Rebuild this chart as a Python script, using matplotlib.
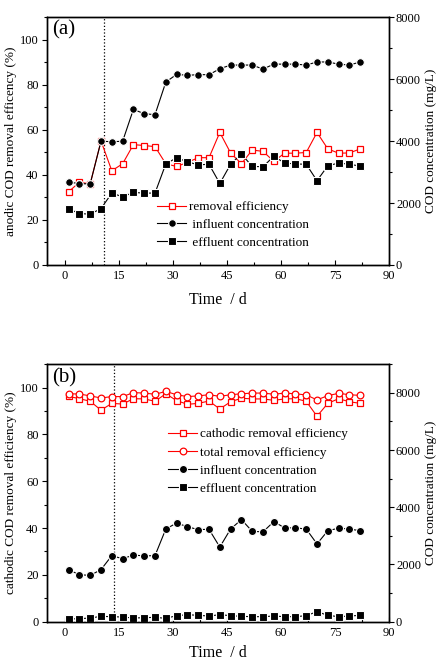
import numpy as np
import matplotlib
matplotlib.use('Agg')
import matplotlib.pyplot as plt
from matplotlib.ticker import MultipleLocator

plt.rcParams['font.family'] = ['Liberation Serif', 'DejaVu Serif']

# --- data ---
days = [1, 4, 7, 10, 13, 16, 19, 22, 25, 28, 31, 34, 37, 40,
        43, 46, 49, 52, 55, 58, 61, 64, 67, 70, 73, 76, 79, 82]

# (a) anode
a_removal = [32.5, 36.7, 36.0, 55.0, 41.8, 44.9, 53.4, 53.0, 52.5, 44.9,
             43.7, 45.5, 47.6, 47.6, 58.8, 49.7, 44.9, 51.0, 50.4, 46.0,
             49.6, 49.6, 49.9, 58.8, 51.5, 49.6, 49.7, 51.5]
a_influent = [2680, 2620, 2620, 3990, 3980, 3990, 5020, 4880, 4850, 5900,
              6150, 6120, 6140, 6140, 6330, 6450, 6450, 6450, 6320, 6480,
              6480, 6480, 6450, 6550, 6550, 6480, 6450, 6550]
a_effluent = [1810, 1660, 1640, 1820, 2320, 2200, 2340, 2320, 2320, 3260,
              3460, 3330, 3230, 3250, 2630, 3250, 3580, 3180, 3170, 3510,
              3290, 3260, 3250, 2720, 3200, 3290, 3250, 3190]

# (b) cathode
b_cathodic = [96.3, 95.3, 94.2, 90.4, 93.3, 93.0, 95.3, 95.2, 94.2, 97.4,
              94.5, 92.9, 93.3, 94.3, 90.9, 94.0, 95.5, 95.2, 95.2, 94.6,
              95.2, 95.3, 94.2, 87.8, 93.3, 95.3, 94.0, 93.3]
b_total = [97.4, 97.3, 96.5, 95.6, 96.2, 96.2, 97.9, 97.7, 97.2, 98.4,
           97.0, 96.2, 96.5, 97.0, 96.3, 97.0, 97.4, 97.7, 97.7, 97.2,
           97.7, 97.4, 96.9, 94.8, 96.6, 97.6, 97.0, 96.7]
b_influent = [1820, 1640, 1620, 1820, 2310, 2200, 2330, 2300, 2310, 3240,
              3450, 3320, 3220, 3230, 2610, 3240, 3570, 3160, 3140, 3500,
              3280, 3280, 3240, 2720, 3180, 3270, 3240, 3180]
b_effluent = [93, 105, 128, 187, 175, 163, 128, 140, 152, 117,
              210, 245, 222, 198, 245, 210, 187, 175, 175, 198,
              175, 175, 210, 350, 222, 175, 198, 222]

a_switch_day = 10.7
b_switch_day = 13.7

RED = '#ff0000'
TICK_FS = 9
LABEL_FS = 9.5


def style_axes(ax, ax2, right_max, xpad):
    ax.set_xlim(-5, 90)
    ax.set_ylim(0, 110)
    ax2.set_ylim(0, right_max)
    ax.xaxis.set_major_locator(MultipleLocator(15))
    ax.xaxis.set_minor_locator(MultipleLocator(7.5))
    ax.yaxis.set_major_locator(MultipleLocator(20))
    ax.yaxis.set_minor_locator(MultipleLocator(10))
    ax2.set_yticks([0, 2000, 4000, 6000, 8000])
    ax2.yaxis.set_minor_locator(MultipleLocator(1000))
    for a in (ax, ax2):
        for s in a.spines.values():
            s.set_linewidth(1.0)
    ax.tick_params(axis='x', which='both', direction='in', top=False,
                   labelsize=TICK_FS, pad=3.5)
    ax.tick_params(axis='x', which='major', length=3.5, width=0.8)
    ax.tick_params(axis='x', which='minor', length=2, width=0.8)
    ax.tick_params(axis='y', which='both', direction='out', labelsize=TICK_FS, pad=2.5)
    ax.tick_params(axis='y', which='major', length=3.5, width=0.8)
    ax.tick_params(axis='y', which='minor', length=2, width=0.8)
    ax2.tick_params(axis='y', which='both', direction='out', labelsize=TICK_FS, pad=1.5)
    ax2.tick_params(axis='y', which='major', length=3.5, width=0.8)
    ax2.tick_params(axis='y', which='minor', length=2, width=0.8)
    ax.set_xlabel('Time  / d', fontsize=11.5, labelpad=xpad)
    ax2.set_ylabel('COD concentration (mg/L)', fontsize=LABEL_FS, labelpad=3)


fig = plt.figure(figsize=(4.41, 6.62), dpi=100)

black_kw = dict(color='black', lw=0.8, markeredgecolor='white',
                markeredgewidth=0.8)

# --- panel (a) ---
ax = fig.add_axes([0.1066, 0.5997, 0.7755, 0.3746])
ax2 = ax.twinx()
style_axes(ax, ax2, 8000, 7)
ax.axvline(a_switch_day, color='black', ls=':', lw=0.9)
l1, = ax.plot(days, a_removal, color=RED, lw=0.8, marker='s', ms=4.5,
              mfc='white', mec=RED, mew=0.9, label='removal efficiency')
l2, = ax2.plot(days, a_influent, marker='o', ms=5.5,
               label=' influent concentration', **black_kw)
l3, = ax2.plot(days, a_effluent, marker='s', ms=5.2,
               label=' effluent concentration', **black_kw)
ax.set_ylabel('anodic COD removal efficency (%)', fontsize=LABEL_FS, labelpad=2)
ax2.legend(handles=[l1, l2, l3], loc='upper left', bbox_to_anchor=(0.322, 0.258),
           frameon=False, fontsize=LABEL_FS, borderaxespad=0, borderpad=0,
           handlelength=2.2, handletextpad=0.25, labelspacing=0.42)
ax.text(0.015, 0.985, '(a)', transform=ax.transAxes, fontsize=15,
        ha='left', va='top')

# --- panel (b) ---
bx = fig.add_axes([0.1066, 0.0609, 0.7755, 0.3888])
bx2 = bx.twinx()
style_axes(bx, bx2, 9000, 4.5)
bx.axvline(b_switch_day, color='black', ls=':', lw=0.9)
m1, = bx.plot(days, b_cathodic, color=RED, lw=0.8, marker='s', ms=4.5,
              mfc='white', mec=RED, mew=0.9, label='cathodic removal efficiency')
m2, = bx.plot(days, b_total, color=RED, lw=0.8, marker='o', ms=4.8,
              mfc='white', mec=RED, mew=0.9, label='total removal efficiency')
m3, = bx2.plot(days, b_influent, marker='o', ms=5.8,
               label='influent concentration', **black_kw)
m4, = bx2.plot(days, b_effluent, marker='s', ms=5.2,
               label='effluent concentration', **black_kw)
bx.set_ylabel('cathodic COD removal efficiency (%)', fontsize=LABEL_FS, labelpad=2)
bx2.legend(handles=[m1, m2, m3, m4], loc='upper left', bbox_to_anchor=(0.354, 0.752),
           frameon=False, fontsize=LABEL_FS, borderaxespad=0, borderpad=0,
           handlelength=2.2, handletextpad=0.25, labelspacing=0.45)
bx.text(0.015, 0.985, '(b)', transform=bx.transAxes, fontsize=15,
        ha='left', va='top')

fig.savefig('out.png', dpi=100)
